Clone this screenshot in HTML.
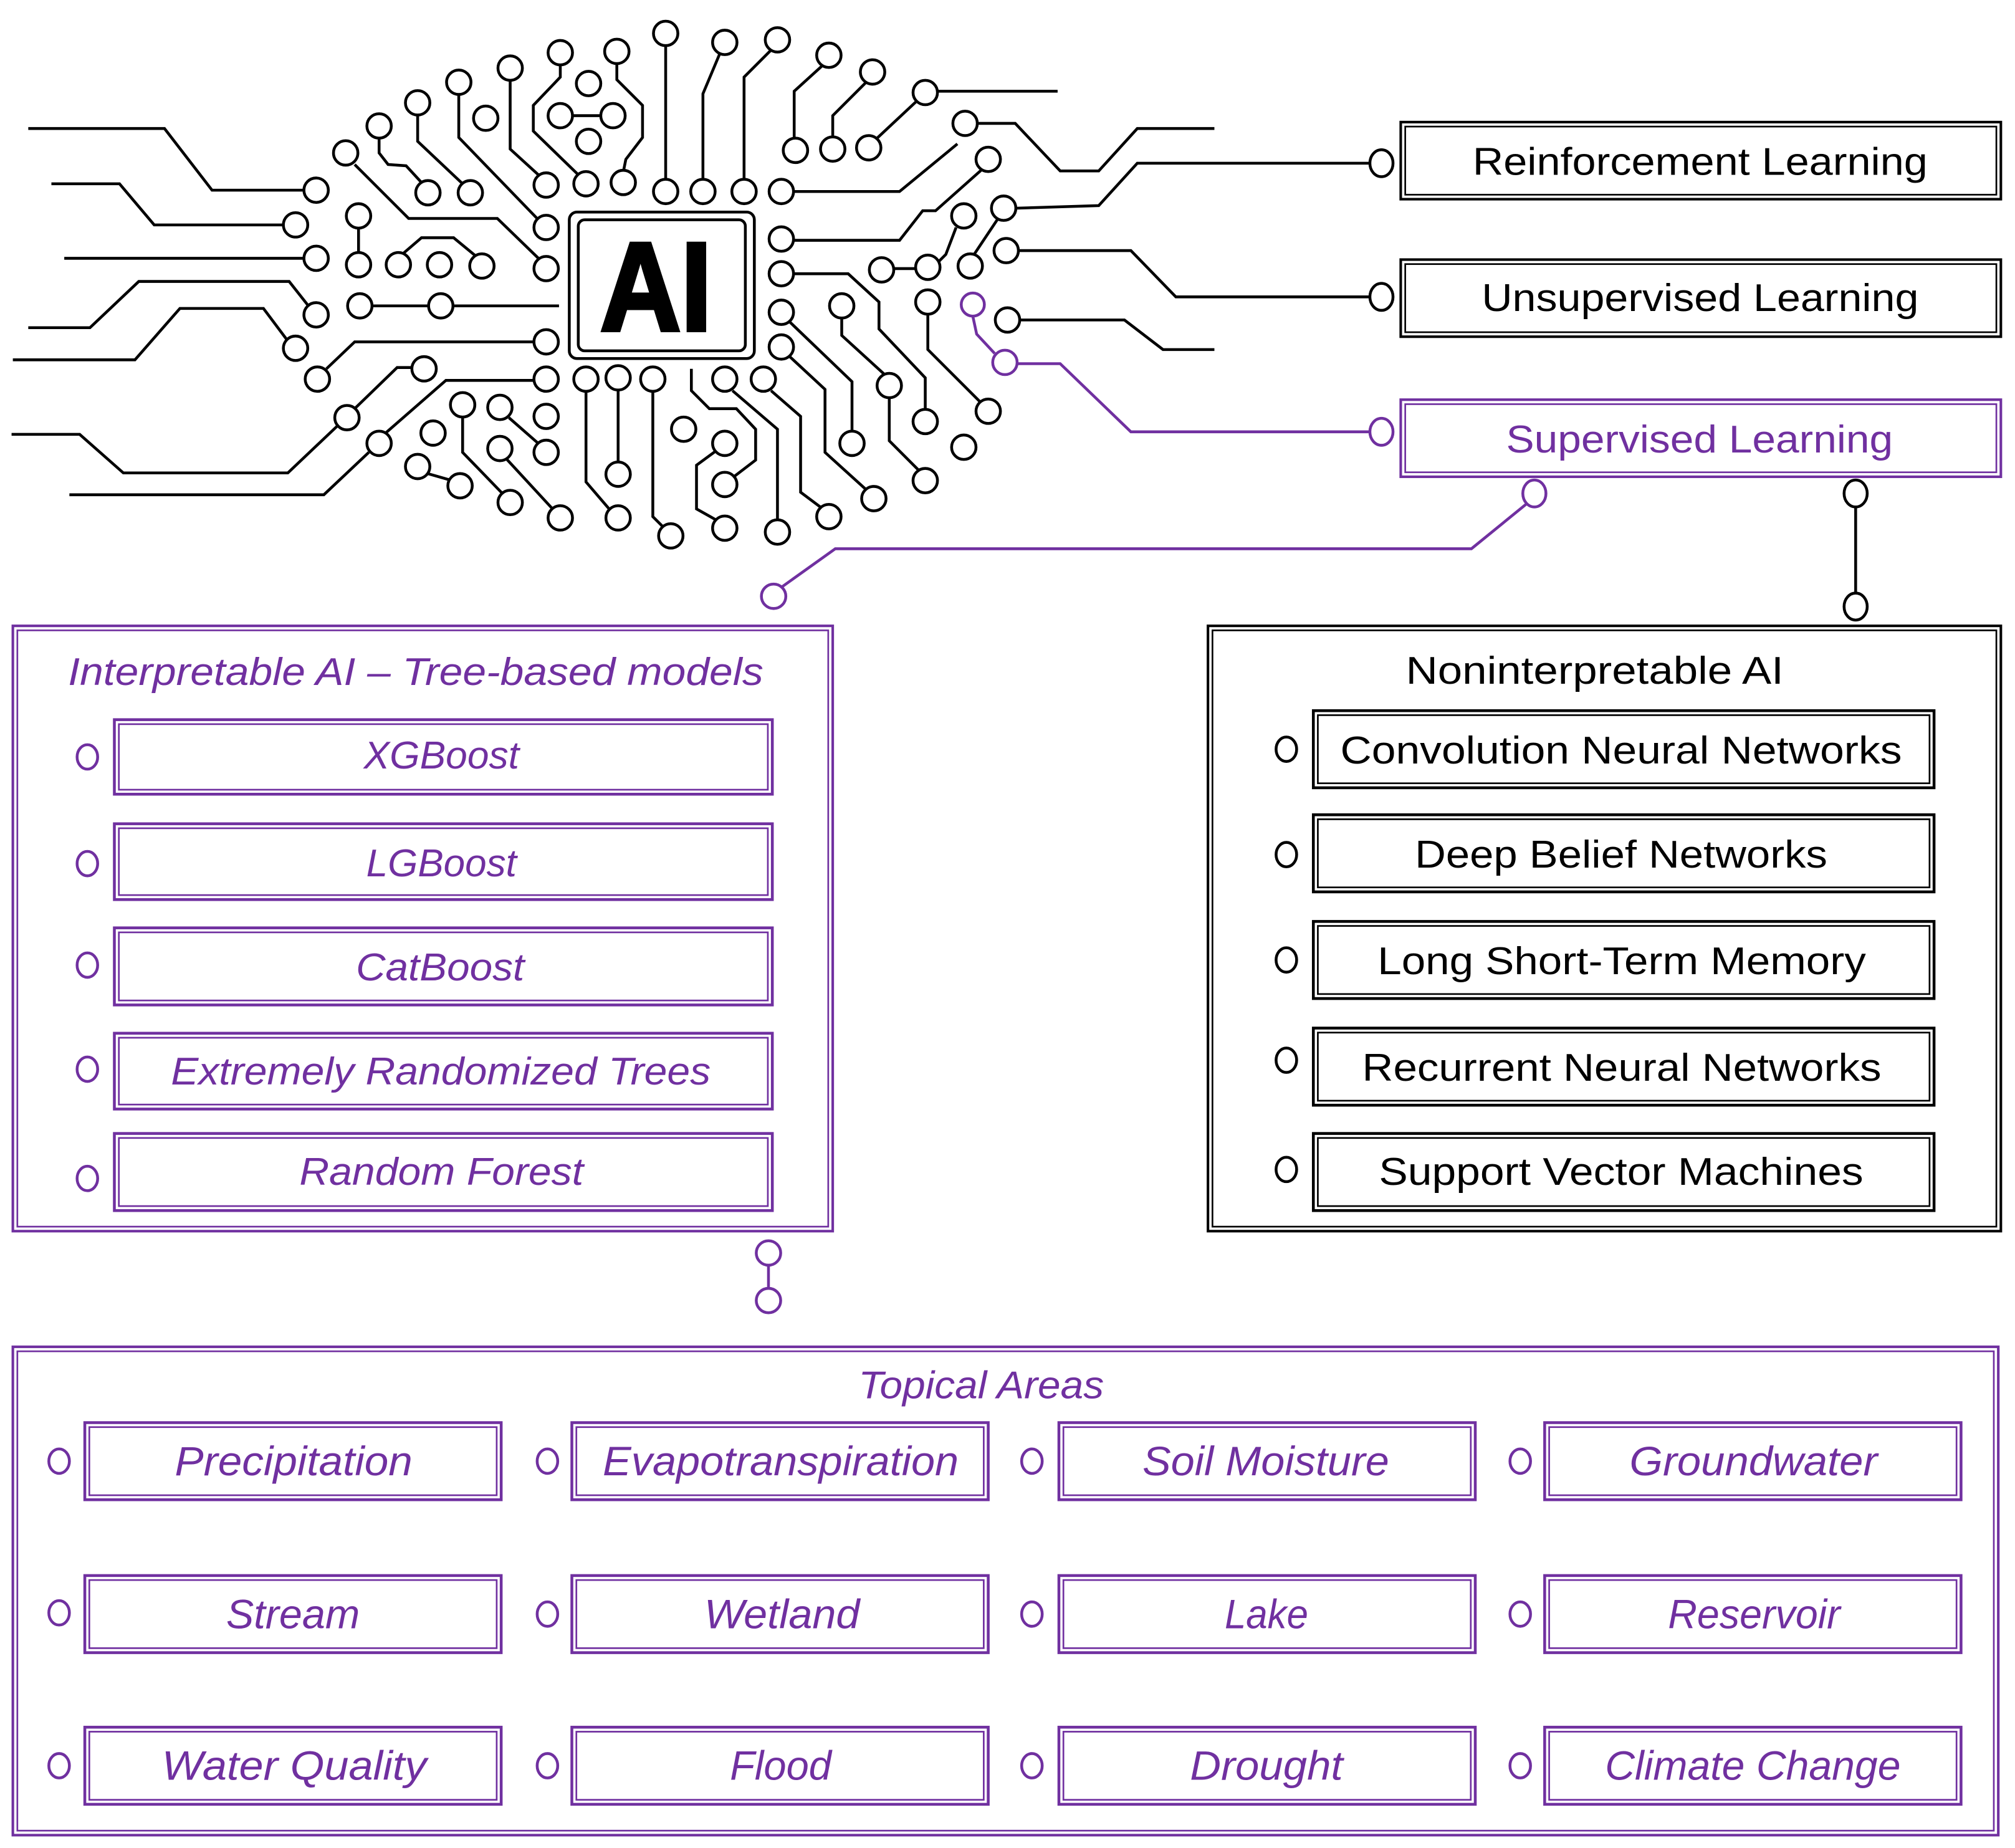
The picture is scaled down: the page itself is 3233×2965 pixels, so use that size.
<!DOCTYPE html>
<html><head><meta charset="utf-8">
<style>
html,body{margin:0;padding:0;background:#fff;}
svg{display:block;}
text{font-family:"Liberation Sans",sans-serif;}
.k{fill:none;stroke:#000;stroke-width:2.2;}
.p{fill:none;stroke:#7030A0;stroke-width:2.2;}
.kc{fill:#fff;stroke:#000;stroke-width:2.2;}
.pc{fill:#fff;stroke:#7030A0;stroke-width:2.2;}
.kt{fill:#000;font-size:30px;}
.pt{fill:#7030A0;font-size:30px;font-style:italic;}
</style></head>
<body>
<svg width="3233" height="2965" viewBox="0 0 1568 1438" preserveAspectRatio="none" xmlns="http://www.w3.org/2000/svg">
<!-- ===== Circuit lines ===== -->
<g class="k">
<polyline points="22,100 128,100 165,148 237,148"/>
<polyline points="40,143 93,143 120,175 221,175"/>
<polyline points="50,201 237,201"/>
<polyline points="22,255 70,255 108,219 225,219 240,238"/>
<polyline points="10,280 105,280 140,240 205,240 223,264"/>
<polyline points="9,338 62,338 96,368 224,368 263,331"/>
<polyline points="276,318 309,286 321,286"/>
<polyline points="54,385 252,385 287,352"/>
<polyline points="300,337 347,296 416,296"/>
<polyline points="254,287 276,266 416,266"/>
<polyline points="289,238 334,238"/>
<polyline points="352,238 435,238"/>
<polyline points="279,177 279,196"/>
<polyline points="314,197 328,185 353,185 370,199"/>
<polyline points="276,128 318,170 387,170 419,201"/>
<polyline points="295,107 295,119 302,128 316,129 328,142"/>
<polyline points="325,89 325,110 360,143"/>
<polyline points="357,73 357,107 418,170"/>
<polyline points="397,62 397,116 420,137"/>
<polyline points="436,50 436,60 415,82 415,102 450,136"/>
<polyline points="480,49 480,62 500,82 500,107 487,124 485,134"/>
<polyline points="445,90 468,90"/>
<polyline points="518,35 518,140"/>
<polyline points="560,42 547,73 547,140"/>
<polyline points="600,39 579,60 579,140"/>
<polyline points="640,51 618,71 618,108"/>
<polyline points="674,64 648,90 648,107"/>
<polyline points="730,71 823,71"/>
<polyline points="713,79 682,108"/>
<polyline points="761,96 790,96 825,133 855,133 885,100 945,100"/>
<polyline points="745,112 700,149 617,149"/>
<polyline points="764,132 728,164 718,164 700,187 617,187"/>
<polyline points="791,162 855,160 885,127 1066,127"/>
<polyline points="744,177 736,198 730,204"/>
<polyline points="695,209 713,209"/>
<polyline points="776,171 758,198"/>
<polyline points="792,195 880,195 915,231 1066,231"/>
<polyline points="793,249 875,249 905,272 945,272"/>
<polyline points="617,213 660,213 684,235 684,256 720,294 720,319"/>
<polyline points="655,247 655,261 689,292"/>
<polyline points="692,309 692,343 716,367"/>
<polyline points="722,244 722,272 763,313"/>
<polyline points="614,250 663,297 663,336"/>
<polyline points="614,277 642,303 642,352 674,381"/>
<polyline points="600,304 623,324 623,383 639,395"/>
<polyline points="570,304 605,334 605,405"/>
<polyline points="538,287 538,304 552,318 573,318 588,334 588,358 571,371"/>
<polyline points="557,351 542,362 542,396 558,405"/>
<polyline points="508,304 508,402 516,410"/>
<polyline points="481,303 481,360"/>
<polyline points="456,304 456,375 474,396"/>
<polyline points="396,325 420,346"/>
<polyline points="360,324 360,352 391,384"/>
<polyline points="394,357 430,396"/>
<polyline points="331,368 352,374"/>
<polyline points="1444,394 1444,462"/>
</g>
<g class="p">
<polyline points="757,246 760,260 774,275"/>
<polyline points="792,283 825,283 880,336 1066,336"/>
<polyline points="1188,392 1145,427 650,427 608,457"/>
<polyline points="598,985 598,1002"/>
</g>
<!-- circuit circles -->
<g class="kc">
<circle cx="246" cy="148" r="9.5"/><circle cx="230" cy="175" r="9.5"/><circle cx="246" cy="201" r="9.5"/>
<circle cx="246" cy="245" r="9.5"/><circle cx="230" cy="271" r="9.5"/><circle cx="270" cy="325" r="9.5"/>
<circle cx="330" cy="287" r="9.5"/><circle cx="295" cy="345" r="9.5"/><circle cx="247" cy="295" r="9.5"/>
<circle cx="280" cy="238" r="9.5"/><circle cx="343" cy="238" r="9.5"/>
<circle cx="279" cy="168" r="9.5"/><circle cx="279" cy="206" r="9.5"/>
<circle cx="310" cy="206" r="9.5"/><circle cx="342" cy="206" r="9.5"/><circle cx="375" cy="207" r="9.5"/>
<circle cx="269" cy="119" r="9.5"/><circle cx="295" cy="98" r="9.5"/><circle cx="333" cy="150" r="9.5"/>
<circle cx="325" cy="80" r="9.5"/><circle cx="366" cy="150" r="9.5"/><circle cx="357" cy="64" r="9.5"/>
<circle cx="397" cy="53" r="9.5"/><circle cx="436" cy="41" r="9.5"/><circle cx="480" cy="40" r="9.5"/>
<circle cx="458" cy="65" r="9.5"/><circle cx="436" cy="90" r="9.5"/><circle cx="477" cy="90" r="9.5"/>
<circle cx="458" cy="110" r="9.5"/><circle cx="378" cy="92" r="9.5"/>
<circle cx="518" cy="26" r="9.5"/><circle cx="564" cy="33" r="9.5"/><circle cx="605" cy="31" r="9.5"/>
<circle cx="645" cy="43" r="9.5"/><circle cx="679" cy="56" r="9.5"/><circle cx="720" cy="72" r="9.5"/>
<circle cx="619" cy="117" r="9.5"/><circle cx="648" cy="116" r="9.5"/><circle cx="676" cy="115" r="9.5"/>
<circle cx="751" cy="96" r="9.5"/><circle cx="769" cy="124" r="9.5"/><circle cx="781" cy="162" r="9.5"/>
<circle cx="750" cy="168" r="9.5"/><circle cx="722" cy="208" r="9.5"/><circle cx="686" cy="210" r="9.5"/>
<circle cx="755" cy="207" r="9.5"/><circle cx="783" cy="195" r="9.5"/><circle cx="784" cy="249" r="9.5"/>
<circle cx="425" cy="144" r="9.5"/><circle cx="456" cy="143" r="9.5"/><circle cx="485" cy="142" r="9.5"/>
<circle cx="518" cy="149" r="9.5"/><circle cx="547" cy="149" r="9.5"/><circle cx="579" cy="149" r="9.5"/><circle cx="608" cy="149" r="9.5"/>
<circle cx="425" cy="177" r="9.5"/><circle cx="425" cy="209" r="9.5"/><circle cx="425" cy="266" r="9.5"/><circle cx="425" cy="295" r="9.5"/>
<circle cx="456" cy="295" r="9.5"/><circle cx="481" cy="294" r="9.5"/><circle cx="508" cy="295" r="9.5"/>
<circle cx="564" cy="295" r="9.5"/><circle cx="594" cy="295" r="9.5"/>
<circle cx="608" cy="186" r="9.5"/><circle cx="608" cy="213" r="9.5"/><circle cx="608" cy="243" r="9.5"/><circle cx="608" cy="270" r="9.5"/>
<circle cx="655" cy="238" r="9.5"/><circle cx="722" cy="235" r="9.5"/>
<circle cx="692" cy="300" r="9.5"/><circle cx="720" cy="374" r="9.5"/><circle cx="720" cy="328" r="9.5"/>
<circle cx="769" cy="320" r="9.5"/><circle cx="750" cy="348" r="9.5"/>
<circle cx="663" cy="345" r="9.5"/><circle cx="680" cy="388" r="9.5"/><circle cx="645" cy="402" r="9.5"/>
<circle cx="605" cy="414" r="9.5"/><circle cx="564" cy="377" r="9.5"/><circle cx="564" cy="345" r="9.5"/>
<circle cx="564" cy="411" r="9.5"/><circle cx="532" cy="334" r="9.5"/><circle cx="522" cy="417" r="9.5"/>
<circle cx="481" cy="369" r="9.5"/><circle cx="481" cy="403" r="9.5"/>
<circle cx="425" cy="352" r="9.5"/><circle cx="425" cy="324" r="9.5"/><circle cx="389" cy="317" r="9.5"/>
<circle cx="360" cy="315" r="9.5"/><circle cx="397" cy="391" r="9.5"/><circle cx="389" cy="349" r="9.5"/>
<circle cx="436" cy="403" r="9.5"/><circle cx="337" cy="337" r="9.5"/><circle cx="325" cy="363" r="9.5"/>
<circle cx="358" cy="378" r="9.5"/>
<ellipse cx="1075" cy="127" rx="9" ry="10.5"/><ellipse cx="1075" cy="231" rx="9" ry="10.5"/>
<ellipse cx="1444" cy="384" rx="9" ry="10.5"/><ellipse cx="1444" cy="472" rx="9" ry="10.5"/>
</g>
<g class="pc">
<circle cx="757" cy="237" r="9"/><circle cx="782" cy="282" r="9.5"/>
<ellipse cx="1075" cy="336" rx="9" ry="10.5"/><ellipse cx="1194" cy="384" rx="9" ry="10.5"/>
<circle cx="602" cy="464" r="9.5"/><circle cx="598" cy="975" r="9.5"/><circle cx="598" cy="1012" r="9.5"/>
</g>
<!-- chip -->
<rect x="443" y="165" width="144" height="114" rx="6" class="k" stroke-width="2.5"/>
<rect x="450" y="171" width="130" height="102" rx="5" class="k" stroke-width="3.5"/>
<text x="467" y="257" font-size="98" font-weight="bold" textLength="87" lengthAdjust="spacingAndGlyphs" stroke="#000" stroke-width="3" fill="#000">AI</text>

<!-- top-right boxes -->
<g class="k">
<rect x="1090" y="95" width="467" height="60" stroke-width="2"/><rect x="1093.5" y="98.5" width="460" height="53" stroke-width="1.3"/>
<rect x="1090" y="202" width="467" height="60" stroke-width="2"/><rect x="1093.5" y="205.5" width="460" height="53" stroke-width="1.3"/>
</g>
<g class="p">
<rect x="1090" y="311" width="467" height="60" stroke-width="2"/><rect x="1093.5" y="314.5" width="460" height="53" stroke-width="1.3"/>
</g>
<text class="kt" x="1146" y="136" textLength="354" lengthAdjust="spacingAndGlyphs">Reinforcement Learning</text>
<text class="kt" x="1153" y="242" textLength="340" lengthAdjust="spacingAndGlyphs">Unsupervised Learning</text>
<text class="kt" x="1172" y="352" textLength="301" lengthAdjust="spacingAndGlyphs" fill="#7030A0" style="fill:#7030A0">Supervised Learning</text>

<!-- Interpretable -->
<g class="p">
<rect x="10" y="487" width="638" height="471" stroke-width="2"/><rect x="13.5" y="490.5" width="631" height="464" stroke-width="1.3"/>
<rect x="89" y="560" width="512" height="58" stroke-width="2.2"/><rect x="92.5" y="563.5" width="505" height="51" stroke-width="1.3"/>
<rect x="89" y="641" width="512" height="59" stroke-width="2.2"/><rect x="92.5" y="644.5" width="505" height="52" stroke-width="1.3"/>
<rect x="89" y="722" width="512" height="60" stroke-width="2.2"/><rect x="92.5" y="725.5" width="505" height="53" stroke-width="1.3"/>
<rect x="89" y="804" width="512" height="59" stroke-width="2.2"/><rect x="92.5" y="807.5" width="505" height="52" stroke-width="1.3"/>
<rect x="89" y="882" width="512" height="60" stroke-width="2.2"/><rect x="92.5" y="885.5" width="505" height="53" stroke-width="1.3"/>
</g>
<g class="pc" stroke-width="3">
<ellipse cx="68" cy="589" rx="8" ry="9.5"/><ellipse cx="68" cy="672" rx="8" ry="9.5"/><ellipse cx="68" cy="751" rx="8" ry="9.5"/>
<ellipse cx="68" cy="832" rx="8" ry="9.5"/><ellipse cx="68" cy="917" rx="8" ry="9.5"/>
</g>
<text class="pt" x="53" y="533" textLength="541" lengthAdjust="spacingAndGlyphs">Interpretable AI – Tree-based models</text>
<text class="pt" x="283" y="598" textLength="121" lengthAdjust="spacingAndGlyphs">XGBoost</text>
<text class="pt" x="285" y="682" textLength="117" lengthAdjust="spacingAndGlyphs">LGBoost</text>
<text class="pt" x="277" y="763" textLength="131" lengthAdjust="spacingAndGlyphs">CatBoost</text>
<text class="pt" x="133" y="844" textLength="420" lengthAdjust="spacingAndGlyphs">Extremely Randomized Trees</text>
<text class="pt" x="233" y="922" textLength="221" lengthAdjust="spacingAndGlyphs">Random Forest</text>

<!-- Noninterpretable -->
<g class="k">
<rect x="940" y="487" width="617" height="471" stroke-width="2"/><rect x="943.5" y="490.5" width="610" height="464" stroke-width="1.3"/>
<rect x="1022" y="553" width="483" height="60" stroke-width="2.2"/><rect x="1025.5" y="556.5" width="476" height="53" stroke-width="1.3"/>
<rect x="1022" y="634" width="483" height="60" stroke-width="2.2"/><rect x="1025.5" y="637.5" width="476" height="53" stroke-width="1.3"/>
<rect x="1022" y="717" width="483" height="60" stroke-width="2.2"/><rect x="1025.5" y="720.5" width="476" height="53" stroke-width="1.3"/>
<rect x="1022" y="800" width="483" height="60" stroke-width="2.2"/><rect x="1025.5" y="803.5" width="476" height="53" stroke-width="1.3"/>
<rect x="1022" y="882" width="483" height="60" stroke-width="2.2"/><rect x="1025.5" y="885.5" width="476" height="53" stroke-width="1.3"/>
</g>
<g class="kc" stroke-width="2.5">
<ellipse cx="1001" cy="583" rx="8" ry="9.5"/><ellipse cx="1001" cy="665" rx="8" ry="9.5"/><ellipse cx="1001" cy="747" rx="8" ry="9.5"/>
<ellipse cx="1001" cy="825" rx="8" ry="9.5"/><ellipse cx="1001" cy="910" rx="8" ry="9.5"/>
</g>
<text class="kt" x="1094" y="532" textLength="294" lengthAdjust="spacingAndGlyphs">Noninterpretable AI</text>
<text class="kt" x="1043" y="594" textLength="437" lengthAdjust="spacingAndGlyphs">Convolution Neural Networks</text>
<text class="kt" x="1101" y="675" textLength="321" lengthAdjust="spacingAndGlyphs">Deep Belief Networks</text>
<text class="kt" x="1072" y="758" textLength="380" lengthAdjust="spacingAndGlyphs">Long Short-Term Memory</text>
<text class="kt" x="1060" y="841" textLength="404" lengthAdjust="spacingAndGlyphs">Recurrent Neural Networks</text>
<text class="kt" x="1073" y="922" textLength="377" lengthAdjust="spacingAndGlyphs">Support Vector Machines</text>

<!-- Topical areas -->
<g class="p">
<rect x="10" y="1048" width="1545" height="380" stroke-width="2"/><rect x="13.5" y="1051.5" width="1538" height="373" stroke-width="1.3"/>
</g>
<g class="p">
<rect x="66" y="1107" width="324" height="60" stroke-width="2.2"/><rect x="69.5" y="1110.5" width="317" height="53" stroke-width="1.3"/>
<rect x="445" y="1107" width="324" height="60" stroke-width="2.2"/><rect x="448.5" y="1110.5" width="317" height="53" stroke-width="1.3"/>
<rect x="824" y="1107" width="324" height="60" stroke-width="2.2"/><rect x="827.5" y="1110.5" width="317" height="53" stroke-width="1.3"/>
<rect x="1202" y="1107" width="324" height="60" stroke-width="2.2"/><rect x="1205.5" y="1110.5" width="317" height="53" stroke-width="1.3"/>
<rect x="66" y="1226" width="324" height="60" stroke-width="2.2"/><rect x="69.5" y="1229.5" width="317" height="53" stroke-width="1.3"/>
<rect x="445" y="1226" width="324" height="60" stroke-width="2.2"/><rect x="448.5" y="1229.5" width="317" height="53" stroke-width="1.3"/>
<rect x="824" y="1226" width="324" height="60" stroke-width="2.2"/><rect x="827.5" y="1229.5" width="317" height="53" stroke-width="1.3"/>
<rect x="1202" y="1226" width="324" height="60" stroke-width="2.2"/><rect x="1205.5" y="1229.5" width="317" height="53" stroke-width="1.3"/>
<rect x="66" y="1344" width="324" height="60" stroke-width="2.2"/><rect x="69.5" y="1347.5" width="317" height="53" stroke-width="1.3"/>
<rect x="445" y="1344" width="324" height="60" stroke-width="2.2"/><rect x="448.5" y="1347.5" width="317" height="53" stroke-width="1.3"/>
<rect x="824" y="1344" width="324" height="60" stroke-width="2.2"/><rect x="827.5" y="1347.5" width="317" height="53" stroke-width="1.3"/>
<rect x="1202" y="1344" width="324" height="60" stroke-width="2.2"/><rect x="1205.5" y="1347.5" width="317" height="53" stroke-width="1.3"/>
</g>
<g class="pc" stroke-width="2.2">
<ellipse cx="46" cy="1137" rx="8" ry="9.5"/><ellipse cx="426" cy="1137" rx="8" ry="9.5"/><ellipse cx="803" cy="1137" rx="8" ry="9.5"/><ellipse cx="1183" cy="1137" rx="8" ry="9.5"/>
<ellipse cx="46" cy="1255" rx="8" ry="9.5"/><ellipse cx="426" cy="1256" rx="8" ry="9.5"/><ellipse cx="803" cy="1256" rx="8" ry="9.5"/><ellipse cx="1183" cy="1256" rx="8" ry="9.5"/>
<ellipse cx="46" cy="1374" rx="8" ry="9.5"/><ellipse cx="426" cy="1374" rx="8" ry="9.5"/><ellipse cx="803" cy="1374" rx="8" ry="9.5"/><ellipse cx="1183" cy="1374" rx="8" ry="9.5"/>
</g>
<text class="pt" x="668" y="1088" textLength="191" lengthAdjust="spacingAndGlyphs">Topical Areas</text>
<g class="pt" style="font-size:32px">
<text class="pt" x="136" y="1148" textLength="185" lengthAdjust="spacingAndGlyphs" style="font-size:32px">Precipitation</text>
<text class="pt" x="469" y="1148" textLength="277" lengthAdjust="spacingAndGlyphs" style="font-size:32px">Evapotranspiration</text>
<text class="pt" x="889" y="1148" textLength="192" lengthAdjust="spacingAndGlyphs" style="font-size:32px">Soil Moisture</text>
<text class="pt" x="1268" y="1148" textLength="193" lengthAdjust="spacingAndGlyphs" style="font-size:32px">Groundwater</text>
<text class="pt" x="176" y="1267" textLength="104" lengthAdjust="spacingAndGlyphs" style="font-size:32px">Stream</text>
<text class="pt" x="548" y="1267" textLength="121" lengthAdjust="spacingAndGlyphs" style="font-size:32px">Wetland</text>
<text class="pt" x="953" y="1267" textLength="65" lengthAdjust="spacingAndGlyphs" style="font-size:32px">Lake</text>
<text class="pt" x="1298" y="1267" textLength="134" lengthAdjust="spacingAndGlyphs" style="font-size:32px">Reservoir</text>
<text class="pt" x="126" y="1385" textLength="206" lengthAdjust="spacingAndGlyphs" style="font-size:32px">Water Quality</text>
<text class="pt" x="568" y="1385" textLength="79" lengthAdjust="spacingAndGlyphs" style="font-size:32px">Flood</text>
<text class="pt" x="926" y="1385" textLength="119" lengthAdjust="spacingAndGlyphs" style="font-size:32px">Drought</text>
<text class="pt" x="1249" y="1385" textLength="230" lengthAdjust="spacingAndGlyphs" style="font-size:32px">Climate Change</text>
</g>
</svg>
</body></html>
